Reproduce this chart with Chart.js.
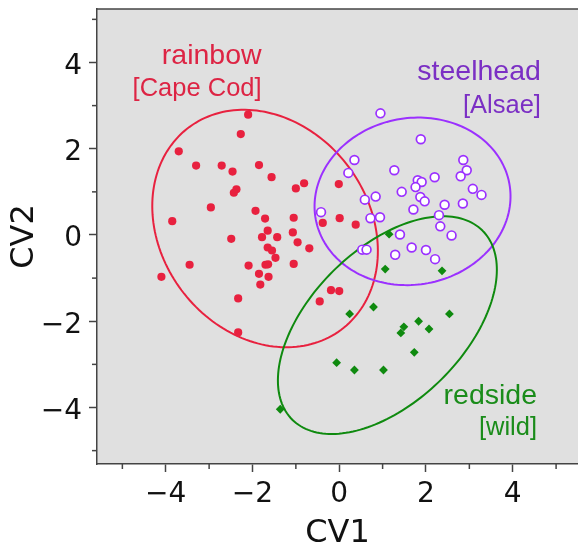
<!DOCTYPE html>
<html>
<head>
<meta charset="utf-8">
<script src="https://cdn.jsdelivr.net/npm/chart.js@4"></script>
<style>
  body { margin: 0; background: #fff; }
</style>
</head>
<body>
<canvas id="myChart" width="578" height="550"></canvas>
<script>
    // rainbow [Cape Cod]
    const rainbowX = [-2.10,-2.27,-3.70,-3.30,-2.71,-2.46,-1.85,-1.56,-1.00,-0.81,-2.37,-2.43,-0.01,-2.96,-3.85,
                      -1.93,-1.71,-1.05,-0.38,0.01,0.38,-1.65,-1.78,-1.43,-1.07,-0.96,-2.49,-0.69,-1.65,-1.55,
                      -1.47,-1.70,-1.64,-1.05,-2.09,-3.45,-4.10,-1.85,-1.63,-1.82,-2.33,-0.19,0.00,-0.45,-2.33];
    const rainbowY = [2.79,2.34,1.94,1.61,1.61,1.47,1.62,1.34,1.08,1.20,1.06,0.98,1.18,0.64,0.32,
                      0.56,0.38,0.40,0.28,0.39,0.24,0.10,-0.05,-0.05,0.06,-0.17,-0.09,-0.31,-0.29,-0.36,
                      -0.53,-0.69,-0.68,-0.67,-0.71,-0.69,-0.97,-0.90,-0.97,-1.15,-1.47,-1.28,-1.30,-1.54,-2.26];

    // steelhead [Alsae]
    const steelX = [0.95,1.88,0.35,2.86,0.21,1.27,2.94,2.80,2.20,1.81,1.90,1.76,1.44,3.08,3.28,1.87,1.97,0.84,
                    0.59,2.43,2.85,1.71,-0.42,2.30,0.72,0.94,2.33,2.59,1.40,0.53,0.63,1.67,2.00,1.29,2.21];
    const steelY = [2.82,2.22,1.74,1.74,1.44,1.50,1.50,1.36,1.34,1.27,1.23,1.11,1.00,1.07,0.93,0.88,0.78,0.89,
                    0.82,0.70,0.73,0.59,0.53,0.46,0.39,0.41,0.20,-0.01,0.01,-0.34,-0.34,-0.29,-0.35,-0.46,-0.56];

    // redside [wild]
    const redsideX = [1.15,1.06,2.37,0.79,0.24,2.54,1.83,1.49,2.07,1.42,1.73,-0.06,0.35,1.02,-1.36];
    const redsideY = [0.02,-0.79,-0.83,-1.67,-1.83,-1.83,-2.00,-2.13,-2.18,-2.27,-2.72,-2.96,-3.13,-3.13,-4.04];

    // ellipses: centre x, centre y, semi-axis a, semi-axis b, angle (deg)
    const ellipseCx = [-1.71, 1.69, 1.11];
    const ellipseCy = [0.15, 0.78, -2.09];
    const ellipseA = [2.93, 2.27, 3.10];
    const ellipseB = [2.40, 1.93, 1.77];
    const ellipseAngle = [-53.4, 10.7, 45];

    const groupNames = ['rainbow', 'steelhead', 'redside'];
    const groupSub = ['[Cape Cod]', '[Alsae]', '[wild]'];

    const red = '#e8213f';
    const purple = '#9b30ff';
    const green = '#0f8a0f';
    const colors = [red, purple, green];
    const textColors = ['#dd2444', '#7b2fc4', '#1a8c1a'];
    // where each group label sits (right edge, baseline, baseline of 2nd line), data units
    const labelPos = [[-1.79, 3.97, 3.22], [4.65, 3.59, 2.82], [4.56, -3.92, -4.63]];

    function pts(xs, ys) {
        return xs.map((x, i) => ({x: x, y: ys[i]}));
    }

    const minus = v => (v < 0 ? '\u2212' + Math.abs(v) : '' + v);

    const plotBg = {
        id: 'plotBg',
        beforeDraw(chart) {
            const a = chart.chartArea, ctx = chart.ctx;
            ctx.save();
            ctx.fillStyle = '#e0e0e0';
            ctx.fillRect(a.left, a.top, a.right - a.left, a.bottom - a.top);
            ctx.restore();
        },
        beforeDatasetsDraw(chart) {
            const ctx = chart.ctx, xs = chart.scales.x, ys = chart.scales.y;
            ctx.save();
            ctx.lineWidth = 2;
            for (let k = 0; k < ellipseCx.length; k++) {
                const th = ellipseAngle[k] * Math.PI / 180;
                ctx.strokeStyle = colors[k];
                ctx.beginPath();
                for (let i = 0; i <= 180; i++) {
                    const t = i / 180 * 2 * Math.PI;
                    const ex = ellipseCx[k] + ellipseA[k] * Math.cos(t) * Math.cos(th) - ellipseB[k] * Math.sin(t) * Math.sin(th);
                    const ey = ellipseCy[k] + ellipseA[k] * Math.cos(t) * Math.sin(th) + ellipseB[k] * Math.sin(t) * Math.cos(th);
                    const px = xs.getPixelForValue(ex), py = ys.getPixelForValue(ey);
                    if (i === 0) ctx.moveTo(px, py); else ctx.lineTo(px, py);
                }
                ctx.closePath();
                ctx.stroke();
            }
            ctx.restore();
        },
        afterDraw(chart) {
            const a = chart.chartArea, ctx = chart.ctx, xs = chart.scales.x, ys = chart.scales.y;
            ctx.save();
            // top frame line
            ctx.strokeStyle = '#444';
            ctx.lineWidth = 1.5;
            ctx.beginPath();
            ctx.moveTo(a.left, a.top);
            ctx.lineTo(a.right, a.top);
            ctx.stroke();
            // minor ticks
            for (let v = -5; v <= 5; v += 2) {
                const px = xs.getPixelForValue(v);
                ctx.beginPath(); ctx.moveTo(px, a.bottom); ctx.lineTo(px, a.bottom + 5); ctx.stroke();
                const py = ys.getPixelForValue(v);
                ctx.beginPath(); ctx.moveTo(a.left, py); ctx.lineTo(a.left - 5, py); ctx.stroke();
            }
            // group labels
            ctx.textAlign = 'right';
            ctx.textBaseline = 'alphabetic';
            for (let k = 0; k < groupNames.length; k++) {
                const px = xs.getPixelForValue(labelPos[k][0]);
                ctx.fillStyle = textColors[k];
                ctx.font = '28.5px "Liberation Sans", Arial, sans-serif';
                ctx.fillText(groupNames[k], px, ys.getPixelForValue(labelPos[k][1]));
                ctx.font = '25.5px "Liberation Sans", Arial, sans-serif';
                ctx.fillText(groupSub[k], px, ys.getPixelForValue(labelPos[k][2]));
            }
            ctx.restore();
        }
    };

    const tickColor = ctx => (Math.abs(ctx.tick.value) % 2 === 1 ? 'rgba(0,0,0,0)' : '#444');

    const config = {
        type: 'scatter',
        data: {
            datasets: [
                {
                    label: 'rainbow', data: pts(rainbowX, rainbowY),
                    pointStyle: 'circle', pointRadius: 4.1, backgroundColor: red, borderWidth: 0
                },
                {
                    label: 'steelhead', data: pts(steelX, steelY),
                    pointStyle: 'circle', pointRadius: 4.4, backgroundColor: '#ffffff',
                    borderColor: purple, borderWidth: 1.7
                },
                {
                    label: 'redside', data: pts(redsideX, redsideY),
                    pointStyle: 'rectRot', pointRadius: 4.4, backgroundColor: green, borderWidth: 0
                }
            ]
        },
        options: {
            responsive: false,
            animation: false,
            layout: {autoPadding: false, padding: {top: 9, left: 0, right: 0, bottom: 0}},
            plugins: {legend: {display: false}, tooltip: {enabled: false}},
            scales: {
                x: {
                    type: 'linear', min: -5.585, max: 5.505,
                    afterFit: s => { s.height = 86; s.paddingLeft = 0; s.paddingRight = 0; },
                    ticks: {
                        stepSize: 1, includeBounds: false, autoSkip: false, maxRotation: 0,
                        padding: 6, color: '#111',
                        font: {family: '"DejaVu Sans", Verdana, sans-serif', size: 28},
                        callback: v => (v % 2 === 0 ? minus(v) : '')
                    },
                    grid: {drawOnChartArea: false, tickLength: 8, tickWidth: 1.5, tickColor: tickColor},
                    border: {display: true, color: '#444', width: 1.5},
                    title: {
                        display: true, text: 'CV1', color: '#111',
                        font: {family: '"DejaVu Sans", Verdana, sans-serif', size: 32, lineHeight: 1},
                        padding: {top: 0, bottom: 0}
                    }
                },
                y: {
                    type: 'linear', min: -5.31, max: 5.24,
                    afterFit: s => { s.width = 97; s.paddingTop = 0; s.paddingBottom = 0; },
                    ticks: {
                        stepSize: 1, includeBounds: false, autoSkip: false,
                        padding: 7, labelOffset: 4, color: '#111',
                        font: {family: '"DejaVu Sans", Verdana, sans-serif', size: 28},
                        callback: v => (v % 2 === 0 ? minus(v) : '')
                    },
                    grid: {drawOnChartArea: false, tickLength: 8, tickWidth: 1.5, tickColor: tickColor},
                    border: {display: true, color: '#444', width: 1.5},
                    title: {
                        display: true, text: 'CV2', color: '#111',
                        font: {family: '"DejaVu Sans", Verdana, sans-serif', size: 32, lineHeight: 1},
                        padding: {top: 9, bottom: 0}
                    }
                }
            }
        },
        plugins: [plotBg]
    };

    const myChart = new Chart(document.getElementById('myChart'), config);
</script>
</body>
</html>
